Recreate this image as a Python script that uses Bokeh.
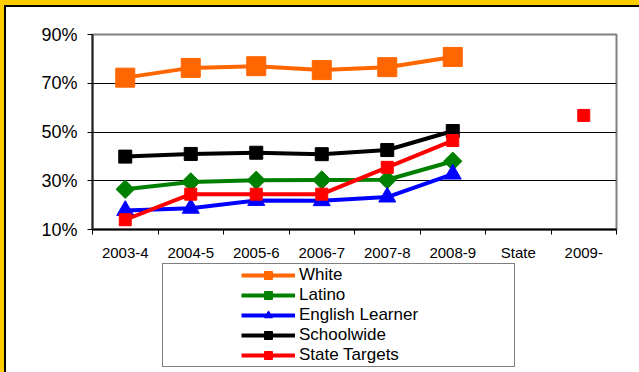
import numpy as np
from bokeh.plotting import figure
from bokeh.layouts import column
from bokeh.models import (FixedTicker, PrintfTickFormatter, Legend, LegendItem, Range1d)
from bokeh.embed import file_html
from bokeh.resources import INLINE

categories = ["2003-4", "2004-5", "2005-6", "2006-7", "2007-8", "2008-9", "State", "2009-"]
white = [72.3, 76.3, 77.0, 75.4, 76.6, 80.8, np.nan, np.nan]
latino = [26.5, 29.5, 30.2, 30.3, 30.4, 38.0, np.nan, np.nan]
english_learner = [17.8, 18.7, 21.9, 21.8, 23.3, 32.7, np.nan, np.nan]
schoolwide = [39.9, 41.0, 41.5, 40.9, 42.6, 50.4, np.nan, np.nan]
state_targets = [14.0, 24.5, 24.5, 24.5, 35.5, 46.5, np.nan, 56.8]
y_ticks = [10, 30, 50, 70, 90]

FONT = "Liberation Sans"
xs = [i + 0.5 for i in range(len(categories))]

p = figure(width=633, height=256, output_backend="svg", toolbar_location=None,
           x_range=Range1d(0, len(categories)), y_range=Range1d(10, 90),
           min_border_left=86, min_border_right=23, min_border_top=27, min_border_bottom=32)
p.background_fill_color = "white"
p.border_fill_color = "white"
p.outline_line_color = "#808080"
p.outline_line_width = 2

p.xgrid.visible = False
p.ygrid.ticker = FixedTicker(ticks=y_ticks)
p.ygrid.grid_line_color = "black"
p.ygrid.grid_line_width = 1

p.yaxis.ticker = FixedTicker(ticks=y_ticks)
p.yaxis.formatter = PrintfTickFormatter(format="%d%%")
p.yaxis.major_label_text_font = FONT
p.yaxis.major_label_text_font_size = "18px"
p.yaxis.major_label_text_color = "black"
p.yaxis.major_tick_out = 5
p.yaxis.major_tick_in = 0
p.yaxis.minor_tick_out = 0
p.yaxis.minor_tick_in = 0
p.yaxis.axis_line_color = "#222222"
p.yaxis.axis_line_width = 2
p.yaxis.major_label_standoff = 10

p.xaxis.ticker = FixedTicker(ticks=xs, minor_ticks=list(range(len(categories) + 1)))
p.xaxis.major_label_overrides = {x: c for x, c in zip(xs, categories)}
p.xaxis.major_label_text_font = FONT
p.xaxis.major_label_text_font_size = "15px"
p.xaxis.major_label_text_color = "black"
p.xaxis.major_tick_out = 0
p.xaxis.major_tick_in = 0
p.xaxis.minor_tick_out = 5
p.xaxis.minor_tick_in = 0
p.xaxis.minor_tick_line_color = "black"
p.xaxis.axis_line_color = "black"
p.xaxis.axis_line_width = 2
p.xaxis.major_label_standoff = 9

series = [
    ("White", white, "#FF6600", "square", 19, 0),
    ("Latino", latino, "#008000", "square", 13, np.pi / 4),
    ("English Learner", english_learner, "#0000FF", "triangle", 17, 0),
    ("Schoolwide", schoolwide, "black", "square", 13, 0),
    ("State Targets", state_targets, "#FF0000", "square", 12, 0),
]

for name, vals, color, marker, size, ang in series:
    p.line(xs, vals, line_color=color, line_width=4)
    p.scatter(xs, vals, marker=marker, size=size, angle=ang,
              fill_color=color, line_color=color)

# Legend panel (second figure, same series; its view range keeps the proxies off-screen)
q = figure(width=633, height=109, output_backend="svg", toolbar_location=None,
           x_range=Range1d(-100, -99), y_range=Range1d(10, 90),
           min_border_left=0, min_border_right=0, min_border_top=0, min_border_bottom=0)
q.axis.visible = False
q.grid.visible = False
q.outline_line_color = None
q.background_fill_color = "white"
q.border_fill_color = "white"

items = []
for name, vals, color, marker, size, ang in series:
    ln = q.line(xs, vals, line_color=color, line_width=4)
    sc = q.scatter(xs, vals, marker=marker, size=size, angle=ang,
                   fill_color=color, line_color=color)
    items.append(LegendItem(label=name, renderers=[ln, sc]))

legend = Legend(items=items, location=(70, 5))
legend.label_text_font = FONT
legend.label_text_font_size = "17px"
legend.label_text_color = "black"
legend.label_text_line_height = 1.0
legend.glyph_width = 54
legend.glyph_height = 20
legend.label_height = 20
legend.spacing = 0
legend.label_standoff = 4
legend.label_width = 214
legend.padding = 1
legend.margin = 0
legend.border_line_color = "black"
legend.border_line_width = 1
legend.background_fill_alpha = 1
legend.title = " "
legend.title_location = "left"
legend.title_standoff = 66
legend.title_text_font_size = "10px"
q.add_layout(legend, "center")

layout = column(p, q, spacing=0)

html = file_html(layout, INLINE)
css = ("<style>html{margin:0 !important;padding:0 !important;background:#FFCC00 !important;height:100%;}"
       "body{margin:5px 0 0 4px !important;padding:0 !important;border-top:2px solid #000;"
       "border-left:2px solid #000;background:#FFFFFF !important;box-sizing:border-box;"
       "min-height:calc(100% - 5px);}</style>")
i = html.rfind("</head>")
if i >= 0:
    html = html[:i] + css + html[i:]
open("out.html", "w").write(html)
